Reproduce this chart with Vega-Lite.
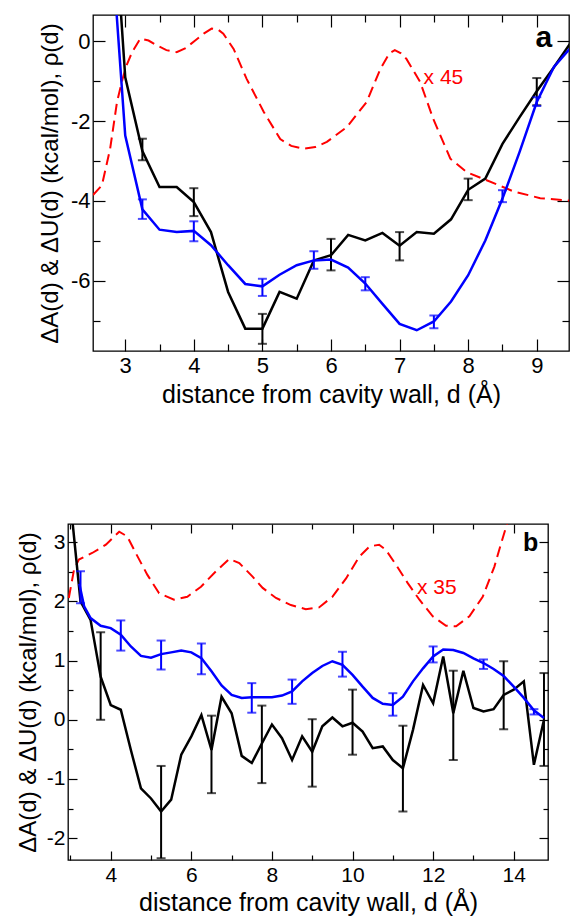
{
 "$schema": "https://vega.github.io/schema/vega-lite/v6.json",
 "padding": {"left": 15, "top": 13, "right": 0, "bottom": 0},
 "background": "white",
 "config": {
   "font": "Liberation Sans",
   "view": {"stroke": "black", "strokeWidth": 1.3},
   "axis": {"domain": false, "grid": false, "labelFont": "Liberation Sans", "titleFont": "Liberation Sans", "labelColor": "black", "titleColor": "black", "tickColor": "black", "titleFontWeight": "normal", "labelFlush": false, "labelOverlap": false, "tickWidth": 1.2}
 },
 "datasets": {
   "a_red": [{"d":2.53,"v":-3.85},{"d":2.66,"v":-3.61},{"d":2.78,"v":-2.69},{"d":2.88,"v":-1.52},{"d":2.96,"v":-0.95},{"d":3.02,"v":-0.6},{"d":3.1,"v":-0.27},{"d":3.22,"v":0.07},{"d":3.34,"v":0.02},{"d":3.46,"v":-0.1},{"d":3.6,"v":-0.22},{"d":3.75,"v":-0.27},{"d":3.88,"v":-0.17},{"d":4.02,"v":0.02},{"d":4.15,"v":0.2},{"d":4.26,"v":0.32},{"d":4.35,"v":0.3},{"d":4.43,"v":0.19},{"d":4.58,"v":-0.19},{"d":4.77,"v":-0.94},{"d":5.02,"v":-1.77},{"d":5.26,"v":-2.45},{"d":5.42,"v":-2.62},{"d":5.6,"v":-2.69},{"d":5.77,"v":-2.65},{"d":5.94,"v":-2.52},{"d":6.23,"v":-2.15},{"d":6.52,"v":-1.52},{"d":6.72,"v":-0.69},{"d":6.85,"v":-0.3},{"d":6.93,"v":-0.22},{"d":7.02,"v":-0.3},{"d":7.1,"v":-0.44},{"d":7.3,"v":-1.02},{"d":7.49,"v":-1.94},{"d":7.74,"v":-2.94},{"d":7.98,"v":-3.28},{"d":8.27,"v":-3.48},{"d":8.66,"v":-3.76},{"d":9.05,"v":-3.93},{"d":9.47,"v":-3.99}],
   "a_black": [{"d":2.75,"v":5.5},{"d":3.0,"v":-0.9},{"d":3.25,"v":-2.75},{"d":3.5,"v":-3.65},{"d":3.75,"v":-3.65},{"d":4.0,"v":-4.03},{"d":4.25,"v":-4.78},{"d":4.5,"v":-6.28},{"d":4.75,"v":-7.2},{"d":5.0,"v":-7.2},{"d":5.25,"v":-6.28},{"d":5.5,"v":-6.45},{"d":5.75,"v":-5.49},{"d":6.0,"v":-5.36},{"d":6.25,"v":-4.85},{"d":6.5,"v":-4.99},{"d":6.75,"v":-4.8},{"d":7.0,"v":-5.12},{"d":7.25,"v":-4.78},{"d":7.5,"v":-4.82},{"d":7.75,"v":-4.46},{"d":8.0,"v":-3.72},{"d":8.25,"v":-3.44},{"d":8.5,"v":-2.57},{"d":8.75,"v":-1.9},{"d":9.0,"v":-1.25},{"d":9.25,"v":-0.65},{"d":9.5,"v":-0.02}],
   "a_blue": [{"d":2.75,"v":3.7},{"d":3.0,"v":-2.36},{"d":3.25,"v":-4.21},{"d":3.5,"v":-4.72},{"d":3.75,"v":-4.78},{"d":4.0,"v":-4.75},{"d":4.25,"v":-5.11},{"d":4.5,"v":-5.61},{"d":4.75,"v":-6.08},{"d":5.0,"v":-6.14},{"d":5.25,"v":-5.85},{"d":5.5,"v":-5.61},{"d":5.75,"v":-5.49},{"d":6.0,"v":-5.47},{"d":6.25,"v":-5.67},{"d":6.5,"v":-6.07},{"d":6.75,"v":-6.58},{"d":7.0,"v":-7.08},{"d":7.25,"v":-7.24},{"d":7.5,"v":-7.02},{"d":7.75,"v":-6.52},{"d":8.0,"v":-5.86},{"d":8.25,"v":-4.99},{"d":8.5,"v":-3.94},{"d":8.75,"v":-2.77},{"d":9.0,"v":-1.52},{"d":9.25,"v":-0.64},{"d":9.5,"v":-0.15}],
   "a_black_err": [{"d":3.25,"lo":-2.98,"hi":-2.44},{"d":4.0,"lo":-4.38,"hi":-3.68},{"d":5.0,"lo":-7.58,"hi":-6.83},{"d":6.0,"lo":-5.74,"hi":-4.95},{"d":7.0,"lo":-5.49,"hi":-4.78},{"d":8.0,"lo":-3.98,"hi":-3.44},{"d":9.0,"lo":-1.6,"hi":-0.92}],
   "a_blue_err": [{"d":3.25,"lo":-4.45,"hi":-3.96},{"d":4.0,"lo":-5.01,"hi":-4.51},{"d":5.0,"lo":-6.38,"hi":-5.95},{"d":5.75,"lo":-5.7,"hi":-5.26},{"d":6.5,"lo":-6.24,"hi":-5.91},{"d":7.5,"lo":-7.19,"hi":-6.87},{"d":8.5,"lo":-4.03,"hi":-3.73},{"d":9.0,"lo":-1.62,"hi":-1.4}],
   "a_note": [{"d":7.35,"v":-1.06,"label":"x 45"}],
   "a_tag": [{"d":8.98,"v":-0.14,"label":"a"}],
   "b_red": [{"d":2.96,"v":2.06},{"d":3.09,"v":2.54},{"d":3.21,"v":2.71},{"d":3.54,"v":2.82},{"d":3.88,"v":2.96},{"d":4.21,"v":3.18},{"d":4.41,"v":3.1},{"d":4.62,"v":2.82},{"d":4.91,"v":2.45},{"d":5.2,"v":2.14},{"d":5.57,"v":2.03},{"d":5.9,"v":2.08},{"d":6.24,"v":2.25},{"d":6.61,"v":2.51},{"d":6.94,"v":2.72},{"d":7.19,"v":2.65},{"d":7.52,"v":2.42},{"d":7.77,"v":2.23},{"d":8.1,"v":2.06},{"d":8.47,"v":1.94},{"d":8.84,"v":1.87},{"d":9.17,"v":1.9},{"d":9.5,"v":2.08},{"d":9.84,"v":2.39},{"d":10.17,"v":2.76},{"d":10.42,"v":2.93},{"d":10.66,"v":2.96},{"d":10.83,"v":2.87},{"d":11.08,"v":2.62},{"d":11.37,"v":2.31},{"d":11.66,"v":2.03},{"d":11.99,"v":1.75},{"d":12.32,"v":1.59},{"d":12.57,"v":1.58},{"d":12.9,"v":1.75},{"d":13.23,"v":2.08},{"d":13.52,"v":2.59},{"d":13.69,"v":2.99},{"d":13.85,"v":3.35},{"d":14.0,"v":3.8}],
   "b_black": [{"d":3.0,"v":3.7},{"d":3.25,"v":2.0},{"d":3.5,"v":1.69},{"d":3.75,"v":0.73},{"d":4.0,"v":0.25},{"d":4.25,"v":0.17},{"d":4.5,"v":-0.51},{"d":4.75,"v":-1.16},{"d":5.0,"v":-1.33},{"d":5.25,"v":-1.55},{"d":5.5,"v":-1.35},{"d":5.75,"v":-0.59},{"d":6.0,"v":-0.28},{"d":6.25,"v":0.08},{"d":6.5,"v":-0.51},{"d":6.75,"v":0.39},{"d":7.0,"v":0.11},{"d":7.25,"v":-0.61},{"d":7.5,"v":-0.73},{"d":7.75,"v":-0.4},{"d":8.0,"v":-0.08},{"d":8.25,"v":-0.31},{"d":8.5,"v":-0.68},{"d":8.75,"v":-0.28},{"d":9.0,"v":-0.54},{"d":9.25,"v":-0.11},{"d":9.5,"v":0.04},{"d":9.75,"v":-0.11},{"d":10.0,"v":-0.05},{"d":10.25,"v":-0.2},{"d":10.5,"v":-0.48},{"d":10.75,"v":-0.45},{"d":11.0,"v":-0.68},{"d":11.25,"v":-0.82},{"d":11.5,"v":-0.17},{"d":11.75,"v":0.59},{"d":12.0,"v":0.28},{"d":12.25,"v":1.07},{"d":12.5,"v":0.11},{"d":12.75,"v":0.83},{"d":13.0,"v":0.2},{"d":13.25,"v":0.14},{"d":13.5,"v":0.18},{"d":13.75,"v":0.42},{"d":14.0,"v":0.51},{"d":14.25,"v":0.65},{"d":14.5,"v":-0.76},{"d":14.75,"v":0.0}],
   "b_blue": [{"d":3.22,"v":2.3},{"d":3.34,"v":1.92},{"d":3.5,"v":1.72},{"d":3.75,"v":1.59},{"d":4.0,"v":1.55},{"d":4.25,"v":1.44},{"d":4.5,"v":1.24},{"d":4.75,"v":1.08},{"d":5.0,"v":1.05},{"d":5.25,"v":1.11},{"d":5.5,"v":1.14},{"d":5.75,"v":1.17},{"d":6.0,"v":1.14},{"d":6.25,"v":1.04},{"d":6.5,"v":0.82},{"d":6.75,"v":0.58},{"d":7.0,"v":0.42},{"d":7.25,"v":0.37},{"d":7.5,"v":0.38},{"d":7.75,"v":0.38},{"d":8.0,"v":0.38},{"d":8.25,"v":0.41},{"d":8.5,"v":0.48},{"d":8.75,"v":0.65},{"d":9.0,"v":0.79},{"d":9.25,"v":0.91},{"d":9.5,"v":0.99},{"d":9.75,"v":0.93},{"d":10.0,"v":0.76},{"d":10.25,"v":0.56},{"d":10.5,"v":0.37},{"d":10.75,"v":0.27},{"d":11.0,"v":0.25},{"d":11.25,"v":0.39},{"d":11.5,"v":0.65},{"d":11.75,"v":0.87},{"d":12.0,"v":1.07},{"d":12.25,"v":1.19},{"d":12.5,"v":1.18},{"d":12.75,"v":1.13},{"d":13.0,"v":1.04},{"d":13.25,"v":0.96},{"d":13.5,"v":0.86},{"d":13.75,"v":0.74},{"d":14.0,"v":0.56},{"d":14.25,"v":0.37},{"d":14.5,"v":0.16},{"d":14.75,"v":0.03}],
   "b_black_err": [{"d":3.75,"lo":0.0,"hi":1.48},{"d":5.25,"lo":-2.34,"hi":-0.78},{"d":6.5,"lo":-1.24,"hi":0.07},{"d":7.75,"lo":-1.07,"hi":0.24},{"d":9.0,"lo":-1.13,"hi":0.01},{"d":10.0,"lo":-0.59,"hi":0.51},{"d":11.25,"lo":-1.55,"hi":-0.1},{"d":12.5,"lo":-0.68,"hi":0.83},{"d":13.75,"lo":-0.16,"hi":0.99},{"d":14.75,"lo":-0.78,"hi":0.79}],
   "b_blue_err": [{"d":3.25,"lo":1.97,"hi":2.51},{"d":4.25,"lo":1.17,"hi":1.68},{"d":5.25,"lo":0.85,"hi":1.34},{"d":6.25,"lo":0.77,"hi":1.29},{"d":7.5,"lo":0.12,"hi":0.62},{"d":8.5,"lo":0.27,"hi":0.68},{"d":9.75,"lo":0.73,"hi":1.15},{"d":11.0,"lo":0.07,"hi":0.45},{"d":12.0,"lo":0.97,"hi":1.24},{"d":13.25,"lo":0.86,"hi":1.02},{"d":14.5,"lo":0.09,"hi":0.18}],
   "b_note": [{"d":11.6,"v":2.12,"label":"x 35"}],
   "b_tag": [{"d":14.23,"v":2.85,"label":"b"}]
 },
 "spacing": 509,
 "bounds": "flush",
 "vconcat": [
  {
   "spacing": 0,
   "bounds": "flush",
   "hconcat": [
    {"width": 25, "height": 336, "data": {"values": [{"k": 0}]}, "mark": {"type": "point", "opacity": 0}, "view": {"stroke": "transparent"}},
    {
     "width": 476, "height": 336,
     "resolve": {"axis": {"x": "independent", "y": "independent"}},
     "layer": [
      {"data": {"name": "a_red"}, "mark": {"type": "line", "color": "#ff0000", "strokeWidth": 2, "strokeDash": [11, 6], "clip": true},
       "encoding": {
        "x": {"field": "d", "type": "quantitative", "scale": {"domain": [2.53, 9.47], "nice": false, "zero": false},
              "axis": {"orient": "bottom", "values": [3,3.5,4,4.5,5,5.5,6,6.5,7,7.5,8,8.5,9], "title": "distance from cavity wall, d (Å)", "titleFontSize": 25, "titlePadding": 1, "labelFontSize": 22, "labelPadding": 16, "labelExpr": "datum.value % 1 === 0 ? '' + datum.value : ''", "tickSize": {"condition": {"test": "datum.value % 1 === 0", "value": -12}, "value": -7}}},
        "y": {"field": "v", "type": "quantitative", "scale": {"domain": [-7.76, 0.66], "nice": false, "zero": false},
              "axis": {"orient": "left", "values": [-7,-6,-5,-4,-3,-2,-1,0], "title": "ΔA(d) & ΔU(d) (kcal/mol), ρ(d)", "titleFontSize": 24, "titlePadding": 8, "labelFontSize": 22, "labelPadding": 15, "labelExpr": "datum.value % 2 === 0 ? '' + datum.value : ''", "tickSize": {"condition": {"test": "datum.value % 2 === 0", "value": -12}, "value": -7}}}
       }},
      {"data": {"name": "a_black"}, "mark": {"type": "line", "color": "black", "strokeWidth": 2.5, "clip": true},
       "encoding": {
        "x": {"field": "d", "type": "quantitative", "scale": {"domain": [2.53, 9.47], "nice": false, "zero": false}, "axis": null},
        "y": {"field": "v", "type": "quantitative", "scale": {"domain": [-7.76, 0.66], "nice": false, "zero": false}, "axis": null}
       }},
      {"data": {"name": "a_black_err"}, "mark": {"type": "rule", "color": "black", "strokeWidth": 2},
       "encoding": {
        "x": {"field": "d", "type": "quantitative", "scale": {"domain": [2.53, 9.47], "nice": false, "zero": false}, "axis": null},
        "y": {"field": "lo", "type": "quantitative", "scale": {"domain": [-7.76, 0.66], "nice": false, "zero": false}, "axis": null},
        "y2": {"field": "hi"}
       }},
      {"data": {"name": "a_black_err"}, "mark": {"type": "tick", "orient": "horizontal", "color": "black", "size": 9, "thickness": 2},
       "encoding": {
        "x": {"field": "d", "type": "quantitative", "scale": {"domain": [2.53, 9.47], "nice": false, "zero": false}, "axis": null},
        "y": {"field": "lo", "type": "quantitative", "scale": {"domain": [-7.76, 0.66], "nice": false, "zero": false}, "axis": null}
       }},
      {"data": {"name": "a_black_err"}, "mark": {"type": "tick", "orient": "horizontal", "color": "black", "size": 9, "thickness": 2},
       "encoding": {
        "x": {"field": "d", "type": "quantitative", "scale": {"domain": [2.53, 9.47], "nice": false, "zero": false}, "axis": null},
        "y": {"field": "hi", "type": "quantitative", "scale": {"domain": [-7.76, 0.66], "nice": false, "zero": false}, "axis": null}
       }},
      {"data": {"name": "a_blue"}, "mark": {"type": "line", "color": "#0000ff", "strokeWidth": 2.5, "clip": true},
       "encoding": {
        "x": {"field": "d", "type": "quantitative", "scale": {"domain": [2.53, 9.47], "nice": false, "zero": false}, "axis": null},
        "y": {"field": "v", "type": "quantitative", "scale": {"domain": [-7.76, 0.66], "nice": false, "zero": false}, "axis": null}
       }},
      {"data": {"name": "a_blue_err"}, "mark": {"type": "rule", "color": "#0000ff", "strokeWidth": 2},
       "encoding": {
        "x": {"field": "d", "type": "quantitative", "scale": {"domain": [2.53, 9.47], "nice": false, "zero": false}, "axis": null},
        "y": {"field": "lo", "type": "quantitative", "scale": {"domain": [-7.76, 0.66], "nice": false, "zero": false}, "axis": null},
        "y2": {"field": "hi"}
       }},
      {"data": {"name": "a_blue_err"}, "mark": {"type": "tick", "orient": "horizontal", "color": "#0000ff", "size": 9, "thickness": 2},
       "encoding": {
        "x": {"field": "d", "type": "quantitative", "scale": {"domain": [2.53, 9.47], "nice": false, "zero": false}, "axis": null},
        "y": {"field": "lo", "type": "quantitative", "scale": {"domain": [-7.76, 0.66], "nice": false, "zero": false}, "axis": null}
       }},
      {"data": {"name": "a_blue_err"}, "mark": {"type": "tick", "orient": "horizontal", "color": "#0000ff", "size": 9, "thickness": 2},
       "encoding": {
        "x": {"field": "d", "type": "quantitative", "scale": {"domain": [2.53, 9.47], "nice": false, "zero": false}, "axis": null},
        "y": {"field": "hi", "type": "quantitative", "scale": {"domain": [-7.76, 0.66], "nice": false, "zero": false}, "axis": null}
       }},
      {"data": {"name": "a_note"}, "mark": {"type": "text", "color": "#ff0000", "fontSize": 21, "align": "left", "baseline": "alphabetic"},
       "encoding": {
        "x": {"field": "d", "type": "quantitative", "scale": {"domain": [2.53, 9.47], "nice": false, "zero": false}, "axis": null},
        "y": {"field": "v", "type": "quantitative", "scale": {"domain": [-7.76, 0.66], "nice": false, "zero": false}, "axis": null},
        "text": {"field": "label"}
       }},
      {"data": {"name": "a_tag"}, "mark": {"type": "text", "color": "black", "fontSize": 30, "fontWeight": "bold", "align": "left", "baseline": "alphabetic"},
       "encoding": {
        "x": {"field": "d", "type": "quantitative", "scale": {"domain": [2.53, 9.47], "nice": false, "zero": false},
              "axis": {"orient": "top", "values": [3,3.5,4,4.5,5,5.5,6,6.5,7,7.5,8,8.5,9], "labels": false, "title": null, "tickSize": {"condition": {"test": "datum.value % 1 === 0", "value": -12}, "value": -7}}},
        "y": {"field": "v", "type": "quantitative", "scale": {"domain": [-7.76, 0.66], "nice": false, "zero": false},
              "axis": {"orient": "right", "values": [-7,-6,-5,-4,-3,-2,-1,0], "labels": false, "title": null, "tickSize": {"condition": {"test": "datum.value % 2 === 0", "value": -12}, "value": -7}}},
        "text": {"field": "label"}
       }}
     ]
    }
   ]
  },
  {
   "width": 480, "height": 336,
   "resolve": {"axis": {"x": "independent", "y": "independent"}},
   "layer": [
    {"data": {"name": "b_red"}, "mark": {"type": "line", "color": "#ff0000", "strokeWidth": 2, "strokeDash": [11, 6], "clip": true},
     "encoding": {
      "x": {"field": "d", "type": "quantitative", "scale": {"domain": [2.94, 14.85], "nice": false, "zero": false},
            "axis": {"orient": "bottom", "values": [3,4,5,6,7,8,9,10,11,12,13,14], "title": "distance from cavity wall, d (Å)", "titleFontSize": 25, "titlePadding": 1, "labelFontSize": 21, "labelPadding": 13, "labelExpr": "datum.value % 2 === 0 ? '' + datum.value : ''", "tickSize": {"condition": {"test": "datum.value % 2 === 0", "value": -9}, "value": -5}}},
      "y": {"field": "v", "type": "quantitative", "scale": {"domain": [-2.37, 3.31], "nice": false, "zero": false},
            "axis": {"orient": "left", "values": [-2,-1.5,-1,-0.5,0,0.5,1,1.5,2,2.5,3], "title": "ΔA(d) & ΔU(d) (kcal/mol), ρ(d)", "titleFontSize": 24, "titlePadding": 6, "labelFontSize": 21, "labelPadding": 12, "labelExpr": "datum.value % 1 === 0 ? '' + datum.value : ''", "tickSize": {"condition": {"test": "datum.value % 1 === 0", "value": -9}, "value": -5}}}
     }},
    {"data": {"name": "b_black"}, "mark": {"type": "line", "color": "black", "strokeWidth": 2.5, "clip": true},
     "encoding": {
      "x": {"field": "d", "type": "quantitative", "scale": {"domain": [2.94, 14.85], "nice": false, "zero": false}, "axis": null},
      "y": {"field": "v", "type": "quantitative", "scale": {"domain": [-2.37, 3.31], "nice": false, "zero": false}, "axis": null}
     }},
    {"data": {"name": "b_black_err"}, "mark": {"type": "rule", "color": "black", "strokeWidth": 2},
     "encoding": {
      "x": {"field": "d", "type": "quantitative", "scale": {"domain": [2.94, 14.85], "nice": false, "zero": false}, "axis": null},
      "y": {"field": "lo", "type": "quantitative", "scale": {"domain": [-2.37, 3.31], "nice": false, "zero": false}, "axis": null},
      "y2": {"field": "hi"}
     }},
    {"data": {"name": "b_black_err"}, "mark": {"type": "tick", "orient": "horizontal", "color": "black", "size": 9, "thickness": 2},
     "encoding": {
      "x": {"field": "d", "type": "quantitative", "scale": {"domain": [2.94, 14.85], "nice": false, "zero": false}, "axis": null},
      "y": {"field": "lo", "type": "quantitative", "scale": {"domain": [-2.37, 3.31], "nice": false, "zero": false}, "axis": null}
     }},
    {"data": {"name": "b_black_err"}, "mark": {"type": "tick", "orient": "horizontal", "color": "black", "size": 9, "thickness": 2},
     "encoding": {
      "x": {"field": "d", "type": "quantitative", "scale": {"domain": [2.94, 14.85], "nice": false, "zero": false}, "axis": null},
      "y": {"field": "hi", "type": "quantitative", "scale": {"domain": [-2.37, 3.31], "nice": false, "zero": false}, "axis": null}
     }},
    {"data": {"name": "b_blue"}, "mark": {"type": "line", "color": "#0000ff", "strokeWidth": 2.5, "clip": true},
     "encoding": {
      "x": {"field": "d", "type": "quantitative", "scale": {"domain": [2.94, 14.85], "nice": false, "zero": false}, "axis": null},
      "y": {"field": "v", "type": "quantitative", "scale": {"domain": [-2.37, 3.31], "nice": false, "zero": false}, "axis": null}
     }},
    {"data": {"name": "b_blue_err"}, "mark": {"type": "rule", "color": "#0000ff", "strokeWidth": 2},
     "encoding": {
      "x": {"field": "d", "type": "quantitative", "scale": {"domain": [2.94, 14.85], "nice": false, "zero": false}, "axis": null},
      "y": {"field": "lo", "type": "quantitative", "scale": {"domain": [-2.37, 3.31], "nice": false, "zero": false}, "axis": null},
      "y2": {"field": "hi"}
     }},
    {"data": {"name": "b_blue_err"}, "mark": {"type": "tick", "orient": "horizontal", "color": "#0000ff", "size": 9, "thickness": 2},
     "encoding": {
      "x": {"field": "d", "type": "quantitative", "scale": {"domain": [2.94, 14.85], "nice": false, "zero": false}, "axis": null},
      "y": {"field": "lo", "type": "quantitative", "scale": {"domain": [-2.37, 3.31], "nice": false, "zero": false}, "axis": null}
     }},
    {"data": {"name": "b_blue_err"}, "mark": {"type": "tick", "orient": "horizontal", "color": "#0000ff", "size": 9, "thickness": 2},
     "encoding": {
      "x": {"field": "d", "type": "quantitative", "scale": {"domain": [2.94, 14.85], "nice": false, "zero": false}, "axis": null},
      "y": {"field": "hi", "type": "quantitative", "scale": {"domain": [-2.37, 3.31], "nice": false, "zero": false}, "axis": null}
     }},
    {"data": {"name": "b_note"}, "mark": {"type": "text", "color": "#ff0000", "fontSize": 21, "align": "left", "baseline": "alphabetic"},
     "encoding": {
      "x": {"field": "d", "type": "quantitative", "scale": {"domain": [2.94, 14.85], "nice": false, "zero": false}, "axis": null},
      "y": {"field": "v", "type": "quantitative", "scale": {"domain": [-2.37, 3.31], "nice": false, "zero": false}, "axis": null},
      "text": {"field": "label"}
     }},
    {"data": {"name": "b_tag"}, "mark": {"type": "text", "color": "black", "fontSize": 25, "fontWeight": "bold", "align": "left", "baseline": "alphabetic"},
     "encoding": {
      "x": {"field": "d", "type": "quantitative", "scale": {"domain": [2.94, 14.85], "nice": false, "zero": false},
            "axis": {"orient": "top", "values": [3,4,5,6,7,8,9,10,11,12,13,14], "labels": false, "title": null, "tickSize": {"condition": {"test": "datum.value % 2 === 0", "value": -9}, "value": -5}}},
      "y": {"field": "v", "type": "quantitative", "scale": {"domain": [-2.37, 3.31], "nice": false, "zero": false},
            "axis": {"orient": "right", "values": [-2,-1.5,-1,-0.5,0,0.5,1,1.5,2,2.5,3], "labels": false, "title": null, "tickSize": {"condition": {"test": "datum.value % 1 === 0", "value": -9}, "value": -5}}},
      "text": {"field": "label"}
     }}
   ]
  }
 ]
}
